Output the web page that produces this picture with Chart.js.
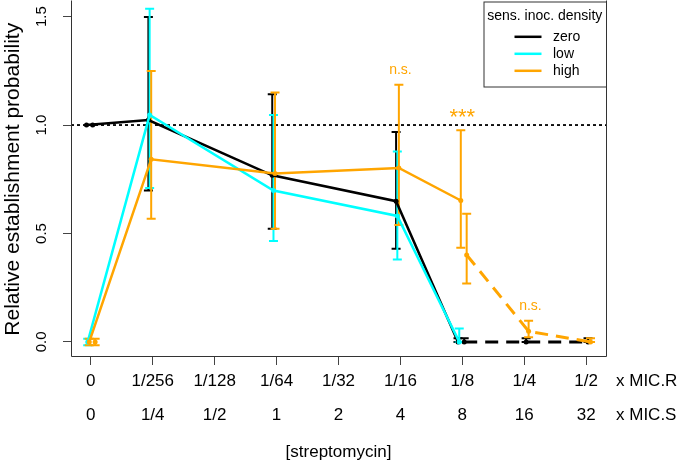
<!DOCTYPE html>
<html><head><meta charset="utf-8">
<script src="https://cdn.jsdelivr.net/npm/chart.js@4/dist/chart.umd.min.js"></script>
<style>html,body{margin:0;padding:0;background:#fff;}canvas{display:block;}</style>
</head><body>
<canvas id="c" width="677" height="461"></canvas>
<script>
// ---- data ----
const micR = ['0','1/256','1/128','1/64','1/32','1/16','1/8','1/4','1/2'];
const micS = ['0','1/4','1/2','1','2','4','8','16','32'];
const yTicks = [0, 0.5, 1.0, 1.5];
const refLine = 1.0;
const legendTitle = 'sens. inoc. density';

// zero (solid)
const zeroMean = [1.0, 1.023, null, 0.768, null, 0.649, 0.0, null, null];
const zeroLow  = [null, 0.698, null, 0.522, null, 0.429, 0.0, null, null];
const zeroHigh = [null, 1.498, null, 1.142, null, 0.968, 0.017, null, null];
// zero (dashed)
const zeroMean2 = [1.0, null, null, null, null, null, 0.0, 0.0, 0.0];
const zeroLow2  = [null, null, null, null, null, null, 0.0, 0.0, 0.0];
const zeroHigh2 = [null, null, null, null, null, null, 0.017, 0.017, 0.017];
// low
const lowMean = [0.0, 1.046, null, 0.698, null, 0.581, 0.0, null, null];
const lowLow  = [-0.015, 0.710, null, 0.465, null, 0.380, 0.0, null, null];
const lowHigh = [0.015, 1.536, null, 1.046, null, 0.878, 0.062, null, null];
// high (solid)
const highMean = [0.0, 0.842, null, 0.776, null, 0.802, 0.652, null, null];
const highLow  = [-0.015, 0.568, null, 0.522, null, 0.539, 0.434, null, null];
const highHigh = [0.015, 1.249, null, 1.150, null, 1.186, 0.976, null, null];
// high (dashed)
const highMean2 = [0.0, null, null, null, null, null, 0.401, 0.049, 0.0];
const highLow2  = [-0.015, null, null, null, null, null, 0.269, 0.021, 0.0];
const highHigh2 = [0.015, null, null, null, null, null, 0.591, 0.097, 0.017];

const annText = ['n.s.', '***', 'n.s.'];
const annPos  = [5, 6, 7.1];
const annY    = [1.236, 1.005, 0.149];

// ---- build ----
const FONT = "'Liberation Sans', Arial, Helvetica, sans-serif";
const BLACK = '#000000', CYAN = '#00FFFF', ORANGE = '#FFA500';

function pts(mean, off, keepNull) {
  const out = [];
  mean.forEach((v, i) => {
    if (v === null) { if (keepNull) out.push({x: i + off, y: null}); }
    else out.push({x: i + off, y: v});
  });
  return out;
}
function ds(label, color, mean, low, high, off, dashed, order, legend) {
  return {
    label, data: pts(mean, off, dashed), borderColor: color, backgroundColor: color,
    borderWidth: dashed ? 3 : 2.5, pointRadius: 2.5, pointHoverRadius: 2.5, pointBorderWidth: 0,
    borderDash: dashed ? [13, 8] : [], spanGaps: !dashed, order, tension: 0,
    errLow: low, errHigh: high, off, legend
  };
}

const datasets = [
  ds('zero', BLACK, zeroMean, zeroLow, zeroHigh, -0.07, false, 3, true),
  ds('zero2', BLACK, zeroMean2, zeroLow2, zeroHigh2, 0.03, true, 3, false),
  ds('low', CYAN, lowMean, lowLow, lowHigh, -0.05, false, 2, true),
  ds('high', ORANGE, highMean, highLow, highHigh, -0.025, false, 1, true),
  ds('high2', ORANGE, highMean2, highLow2, highHigh2, 0.07, true, 1, false)
];

const extras = {
  id: 'extras',
  beforeDatasetsDraw(chart) {
    const ctx = chart.ctx, xs = chart.scales.x, ys = chart.scales.y, ca = chart.chartArea;
    ctx.save();
    ctx.strokeStyle = '#000'; ctx.lineWidth = 1.8; ctx.setLineDash([3, 3]);
    const yr = ys.getPixelForValue(refLine);
    ctx.beginPath(); ctx.moveTo(ca.left, yr); ctx.lineTo(ca.right, yr); ctx.stroke();
    ctx.setLineDash([]);
    const list = chart.data.datasets.slice().sort((a, b) => b.order - a.order);
    list.forEach(d => {
      ctx.strokeStyle = d.borderColor; ctx.lineWidth = 2;
      d.errLow.forEach((lo, i) => {
        const hi = d.errHigh[i];
        if (lo === null || hi === null) return;
        const x = xs.getPixelForValue(i + d.off);
        const y1 = ys.getPixelForValue(lo), y2 = ys.getPixelForValue(hi);
        ctx.beginPath();
        ctx.moveTo(x, y1); ctx.lineTo(x, y2);
        ctx.moveTo(x - 4.5, y1); ctx.lineTo(x + 4.5, y1);
        ctx.moveTo(x - 4.5, y2); ctx.lineTo(x + 4.5, y2);
        ctx.stroke();
      });
    });
    ctx.restore();
  },
  afterDraw(chart) {
    const ctx = chart.ctx, xs = chart.scales.x, ys = chart.scales.y, ca = chart.chartArea;
    ctx.save();
    ctx.strokeStyle = '#333'; ctx.lineWidth = 1;
    ctx.beginPath();
    ctx.moveTo(ca.left + 0.5, ca.top - 2); ctx.lineTo(ca.left + 0.5, ca.bottom + 0.5);
    ctx.lineTo(ca.right + 0.5, ca.bottom + 0.5); ctx.lineTo(ca.right + 0.5, ca.top - 2);
    ctx.stroke();
    ctx.fillStyle = ORANGE; ctx.textAlign = 'center'; ctx.textBaseline = 'alphabetic';
    annText.forEach((t, i) => {
      ctx.font = (t === '***' ? '22px ' : '14px ') + FONT;
      ctx.fillText(t, xs.getPixelForValue(annPos[i]), ys.getPixelForValue(annY[i]));
    });
    ctx.fillStyle = '#000'; ctx.font = '17px ' + FONT; ctx.textAlign = 'left'; ctx.textBaseline = 'middle';
    const row1 = xs.top + 9 - 1 + 17;
    ctx.fillText('x MIC.R', ca.right + 10, row1);
    ctx.fillText('x MIC.S', ca.right + 10, row1 + 34);
    const lx = ca.right - 122.5, ly = ca.top - 1, lw = 122.5, lh = 85;
    ctx.fillStyle = '#fff'; ctx.fillRect(lx, ly, lw, lh);
    ctx.strokeStyle = '#333'; ctx.lineWidth = 1;
    ctx.strokeRect(lx + 0.5, ly + 0.5, lw, lh);
    ctx.fillStyle = '#000'; ctx.font = '14px ' + FONT; ctx.textAlign = 'center'; ctx.textBaseline = 'middle';
    ctx.fillText(legendTitle, lx + lw / 2, ly + 14.5);
    let k = 0;
    chart.data.datasets.forEach(d => {
      if (!d.legend) return;
      const y = ly + 35.3 + k * 17;
      ctx.strokeStyle = d.borderColor; ctx.lineWidth = 2.5;
      ctx.beginPath(); ctx.moveTo(lx + 31, y); ctx.lineTo(lx + 58, y); ctx.stroke();
      ctx.fillStyle = '#000'; ctx.textAlign = 'left';
      ctx.fillText(d.label, lx + 69.5, y);
      k++;
    });
    ctx.restore();
  }
};

new Chart(document.getElementById('c'), {
  type: 'line',
  data: { datasets },
  plugins: [extras],
  options: {
    responsive: false, animation: false, devicePixelRatio: 1,
    layout: { padding: { left: 0, right: 71, top: 0, bottom: 0 } },
    plugins: { legend: { display: false }, tooltip: { enabled: false } },
    scales: {
      x: {
        type: 'linear', min: -0.32, max: 8.32,
        afterBuildTicks: s => { s.ticks = micR.map((_, i) => ({ value: i })); },
        afterFit: s => { s.height = 105; s.paddingLeft = 0; s.paddingRight = 0; },
        grid: { drawOnChartArea: false, tickLength: 9, color: '#444' },
        border: { display: false },
        ticks: {
          autoSkip: false, minRotation: 0, maxRotation: 0, padding: -1, color: '#000',
          font: { family: FONT, size: 17, lineHeight: 2 },
          callback: v => [micR[v], micS[v]]
        },
        title: { display: true, text: '[streptomycin]', color: '#000',
          font: { family: FONT, size: 17, lineHeight: 1 }, padding: { top: 0, bottom: 0 } }
      },
      y: {
        min: -0.065, max: 1.565,
        afterBuildTicks: s => { s.ticks = yTicks.map(v => ({ value: v })); },
        afterFit: s => { s.width = 71; s.paddingTop = 0; s.paddingBottom = 0; },
        grid: { drawOnChartArea: false, tickLength: 8, color: '#444' },
        border: { display: false },
        ticks: {
          minRotation: 90, maxRotation: 90, crossAlign: 'center', padding: 11, color: '#000',
          font: { family: FONT, size: 15 },
          callback: v => Number(v).toFixed(1)
        },
        title: { display: true, text: 'Relative establishment probability', color: '#000',
          font: { family: FONT, size: 21, lineHeight: 1.2 }, padding: { top: 1, bottom: 0 } }
      }
    }
  }
});
</script>
</body></html>
